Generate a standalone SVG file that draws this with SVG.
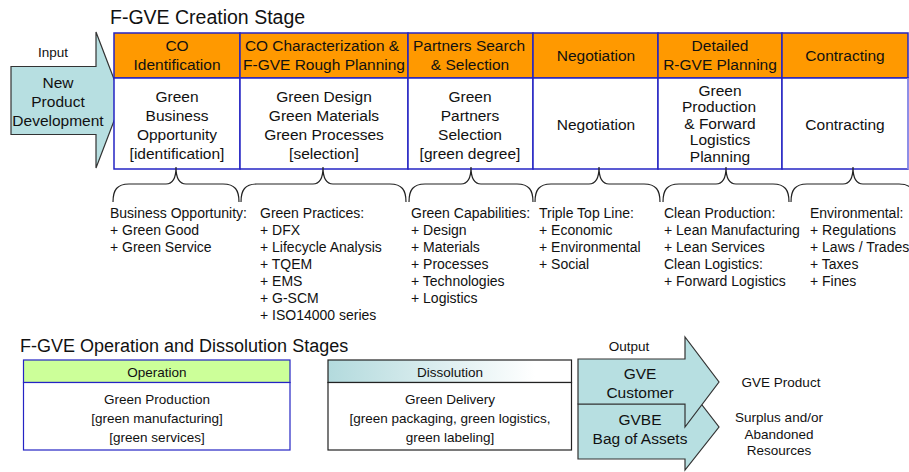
<svg xmlns="http://www.w3.org/2000/svg" width="909" height="472" viewBox="0 0 909 472">
<defs>
<linearGradient id="dissGrad" x1="0" y1="0" x2="1" y2="0">
<stop offset="0" stop-color="#b3dadd"/>
<stop offset="0.85" stop-color="#ffffff"/>
</linearGradient>
</defs>
<style>
text{font-family:"Liberation Sans",Arial,sans-serif;fill:#111;}
.t{font-size:15.5px;text-anchor:middle;}
.s{font-size:13.5px;text-anchor:middle;}
.l{font-size:14px;}
.title{font-size:19.5px;}
.title2{font-size:18px;}
.hdr{fill:#ff9900;stroke:#2424c4;stroke-width:1.5;}
.body{fill:#ffffff;stroke:#2424c4;stroke-width:1.5;}
.arrow{fill:#b7dfe1;stroke:#333;stroke-width:1.2;}
.brace{fill:none;stroke:#222;stroke-width:1.2;}
</style>
<rect width="909" height="472" fill="#ffffff"/>

<text class="title" x="110" y="24">F-GVE Creation Stage</text>

<g id="input-arrow">
<path class="arrow" d="M11,66.5 L96,66.5 L96,32 L122,100 L96,168 L96,134.5 L11,134.5 Z"/>
<text class="s" x="53" y="57">Input</text>
<text class="t" x="58" y="88">New</text>
<text class="t" x="58" y="107">Product</text>
<text class="t" x="58" y="126">Development</text>
</g>

<g id="col-co-identification">
<rect class="hdr" x="114" y="33" width="126" height="45"/>
<rect class="body" x="114" y="78" width="126" height="91"/>
<text class="t" x="177" y="51">CO</text>
<text class="t" x="177" y="70">Identification</text>
<text class="t" x="177" y="101.5">Green</text>
<text class="t" x="177" y="120.5">Business</text>
<text class="t" x="177" y="139.5">Opportunity</text>
<text class="t" x="177" y="158.5">[identification]</text>
</g>

<g id="col-co-characterization">
<rect class="hdr" x="240" y="33" width="168" height="45"/>
<rect class="body" x="240" y="78" width="168" height="91"/>
<text class="t" x="322" y="51" textLength="154" lengthAdjust="spacingAndGlyphs">CO Characterization &amp;</text>
<text class="t" x="324" y="70">F-GVE Rough Planning</text>
<text class="t" x="324" y="101.5">Green Design</text>
<text class="t" x="324" y="120.5">Green Materials</text>
<text class="t" x="324" y="139.5">Green Processes</text>
<text class="t" x="324" y="158.5">[selection]</text>
</g>

<g id="col-partners-search">
<rect class="hdr" x="408" y="33" width="125" height="45"/>
<rect class="body" x="408" y="78" width="125" height="91"/>
<text class="t" x="469" y="51">Partners Search</text>
<text class="t" x="470" y="70">&amp; Selection</text>
<text class="t" x="470" y="101.5">Green</text>
<text class="t" x="470" y="120.5">Partners</text>
<text class="t" x="470" y="139.5">Selection</text>
<text class="t" x="470" y="158.5">[green degree]</text>
</g>

<g id="col-negotiation">
<rect class="hdr" x="533" y="33" width="125" height="45"/>
<rect class="body" x="533" y="78" width="125" height="91"/>
<text class="t" x="596" y="61">Negotiation</text>
<text class="t" x="596" y="129.5">Negotiation</text>
</g>

<g id="col-detailed-planning">
<rect class="hdr" x="658" y="33" width="124" height="45"/>
<rect class="body" x="658" y="78" width="124" height="91"/>
<text class="t" x="720" y="51">Detailed</text>
<text class="t" x="720" y="70">R-GVE Planning</text>
<text class="t" x="720" y="95.5">Green</text>
<text class="t" x="719" y="112">Production</text>
<text class="t" x="720" y="128.5">&amp; Forward</text>
<text class="t" x="720" y="145">Logistics</text>
<text class="t" x="720" y="161.5">Planning</text>
</g>

<g id="col-contracting">
<rect class="hdr" x="782" y="33" width="126" height="45"/>
<rect class="body" x="782" y="78" width="126" height="91"/>
<line x1="908" y1="78" x2="908" y2="169" stroke="#a0a0ee" stroke-width="1.5"/>
<text class="t" x="845" y="61">Contracting</text>
<text class="t" x="845" y="129.5">Contracting</text>
</g>

<g id="connectors">
<path class="brace" d="M113,202 C113,190 117,184 129,184 L166,184 C172,184 176,180 176,167 C176,180 180,184 186,184 L223,184 C235,184 239,190 239,202"/>
<path class="brace" d="M241,202 C241,190 245,184 257,184 L313,184 C319,184 323,180 323,167 C323,180 327,184 333,184 L390,184 C402,184 406,190 406,202"/>
<path class="brace" d="M409,202 C409,190 413,184 425,184 L461,184 C467,184 471,180 471,167 C471,180 475,184 481,184 L517,184 C529,184 533,190 533,202"/>
<path class="brace" d="M535,202 C535,190 539,184 551,184 L589,184 C595,184 599,180 599,167 C599,180 603,184 609,184 L644,184 C656,184 660,190 660,202"/>
<path class="brace" d="M663,202 C663,190 667,184 679,184 L716,184 C722,184 726,180 726,167 C726,180 730,184 736,184 L773,184 C785,184 789,190 789,202"/>
<path class="brace" d="M791,202 C791,190 795,184 807,184 L843,184 C849,184 853,180 853,167 C853,180 857,184 863,184 L899,184 C911,184 915,190 915,202"/>
</g>

<g id="list-business-opportunity">
<text class="l" x="110" y="218">Business Opportunity:</text>
<text class="l" x="110" y="235">+ Green Good</text>
<text class="l" x="110" y="252">+ Green Service</text>
</g>

<g id="list-green-practices">
<text class="l" x="260" y="218">Green Practices:</text>
<text class="l" x="260" y="235">+ DFX</text>
<text class="l" x="260" y="252">+ Lifecycle Analysis</text>
<text class="l" x="260" y="269">+ TQEM</text>
<text class="l" x="260" y="286">+ EMS</text>
<text class="l" x="260" y="303">+ G-SCM</text>
<text class="l" x="260" y="320">+ ISO14000 series</text>
</g>

<g id="list-green-capabilities">
<text class="l" x="411" y="218">Green Capabilities:</text>
<text class="l" x="411" y="235">+ Design</text>
<text class="l" x="411" y="252">+ Materials</text>
<text class="l" x="411" y="269">+ Processes</text>
<text class="l" x="411" y="286">+ Technologies</text>
<text class="l" x="411" y="303">+ Logistics</text>
</g>

<g id="list-triple-top-line">
<text class="l" x="539" y="218">Triple Top Line:</text>
<text class="l" x="539" y="235">+ Economic</text>
<text class="l" x="539" y="252">+ Environmental</text>
<text class="l" x="539" y="269">+ Social</text>
</g>

<g id="list-clean-production">
<text class="l" x="664" y="218">Clean Production:</text>
<text class="l" x="664" y="235">+ Lean Manufacturing</text>
<text class="l" x="664" y="252">+ Lean Services</text>
<text class="l" x="664" y="269">Clean Logistics:</text>
<text class="l" x="664" y="286">+ Forward Logistics</text>
</g>

<g id="list-environmental">
<text class="l" x="810" y="218">Environmental:</text>
<text class="l" x="810" y="235">+ Regulations</text>
<text class="l" x="810" y="252">+ Laws / Trades</text>
<text class="l" x="810" y="269">+ Taxes</text>
<text class="l" x="810" y="286">+ Fines</text>
</g>

<text class="title2" x="20" y="352">F-GVE Operation and Dissolution Stages</text>

<g id="operation">
<rect x="23.5" y="360" width="266.5" height="22.5" fill="#ccff99" stroke="#2424c4" stroke-width="1.2"/>
<rect x="23.5" y="382.5" width="266.5" height="67.5" fill="#ffffff" stroke="#2424c4" stroke-width="1.2"/>
<text class="s" x="157" y="377">Operation</text>
<text class="s" x="157" y="404">Green Production</text>
<text class="s" x="157" y="423">[green manufacturing]</text>
<text class="s" x="157" y="441.5">[green services]</text>
</g>

<g id="dissolution">
<rect x="328" y="360" width="243.5" height="22.5" fill="url(#dissGrad)" stroke="#222" stroke-width="1.2"/>
<rect x="328" y="382.5" width="243.5" height="67.5" fill="#ffffff" stroke="#222" stroke-width="1.2"/>
<text class="s" x="450" y="377">Dissolution</text>
<text class="s" x="450" y="404">Green Delivery</text>
<text class="s" x="450" y="423">[green packaging, green logistics,</text>
<text class="s" x="450" y="441.5">green labeling]</text>
</g>

<g id="output-gvbe">
<path class="arrow" d="M578,404 L685,404 L685,383 L719,427 L685,470 L685,459 L578,459 Z"/>
<text class="t" x="640" y="425">GVBE</text>
<text class="t" x="640" y="443.5">Bag of Assets</text>
</g>

<g id="output-gve">
<path class="arrow" d="M578,359 L685,359 L685,337 L719,382 L685,427 L685,404 L578,404 Z"/>
<text class="s" x="629" y="351">Output</text>
<text class="t" x="640" y="378.5">GVE</text>
<text class="t" x="640" y="398">Customer</text>
</g>

<g id="output-labels">
<text class="s" x="781" y="387">GVE Product</text>
<text class="s" x="779" y="421.5">Surplus and/or</text>
<text class="s" x="779" y="438.5">Abandoned</text>
<text class="s" x="779" y="455">Resources</text>
</g>
</svg>
